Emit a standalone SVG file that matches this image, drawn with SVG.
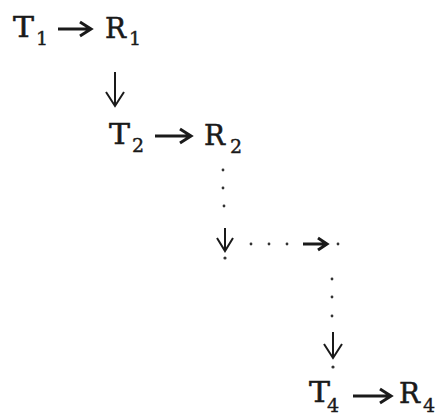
<svg xmlns="http://www.w3.org/2000/svg" width="436" height="416" viewBox="0 0 436 416">
<style>
.m{font-family:"DejaVu Serif","Liberation Serif",serif;font-size:27px;fill:#1a1a1a;stroke:#1a1a1a;stroke-width:0.5}
.s{font-family:"DejaVu Serif","Liberation Serif",serif;font-size:19px;fill:#1a1a1a;stroke:#1a1a1a;stroke-width:0.4}
.ha{fill:none;stroke:#1a1a1a;stroke-width:3;stroke-linejoin:miter}
.va{fill:none;stroke:#1a1a1a;stroke-width:2;stroke-linejoin:miter}
.d{fill:#333}
</style>
<rect width="436" height="416" fill="#ffffff"/>
<g id="T1"><text class="m" x="13" y="37" textLength="21" lengthAdjust="spacingAndGlyphs">T</text><text class="s" x="36" y="45">1</text></g>
<g id="R1"><text class="m" x="105" y="38" textLength="21" lengthAdjust="spacingAndGlyphs">R</text><text class="s" x="129" y="45">1</text></g>
<g id="T2"><text class="m" x="109" y="144" textLength="21" lengthAdjust="spacingAndGlyphs">T</text><text class="s" x="132" y="152">2</text></g>
<g id="R2"><text class="m" x="204" y="145" textLength="21" lengthAdjust="spacingAndGlyphs">R</text><text class="s" x="230" y="153">2</text></g>
<g id="T4"><text class="m" x="309" y="402" textLength="21" lengthAdjust="spacingAndGlyphs">T</text><text class="s" x="327" y="412">4</text></g>
<g id="R4"><text class="m" x="399" y="403" textLength="21" lengthAdjust="spacingAndGlyphs">R</text><text class="s" x="423" y="412">4</text></g>
<g id="connectors">
<path class="ha" d="M58 29H91M80 22L91 29L80 36"/>
<path class="va" d="M115 72V106M106 92L115 106L124 92"/>
<path class="ha" d="M155 136H191M180 129L191 136L180 143"/>
<circle class="d" cx="223" cy="170" r="1.4"/>
<circle class="d" cx="223" cy="188" r="1.4"/>
<circle class="d" cx="224" cy="206" r="1.4"/>
<path class="va" d="M225 228V250M217 238L225 251L233 238"/>
<circle class="d" cx="225" cy="258" r="1.6"/>
<circle class="d" cx="251" cy="244" r="1.4"/>
<circle class="d" cx="269" cy="244" r="1.4"/>
<circle class="d" cx="287" cy="244" r="1.4"/>
<path class="ha" d="M303 244H326M318 238L327 244L318 250"/>
<circle class="d" cx="338" cy="244" r="1.4"/>
<circle class="d" cx="332" cy="279" r="1.4"/>
<circle class="d" cx="332" cy="297" r="1.4"/>
<circle class="d" cx="332" cy="316" r="1.4"/>
<path class="va" d="M333 332V357M324 344L333 358L342 344"/>
<circle class="d" cx="333" cy="367" r="1.6"/>
<path class="ha" d="M353 396H391M380 389L391 396L380 403"/>
</g>
</svg>
